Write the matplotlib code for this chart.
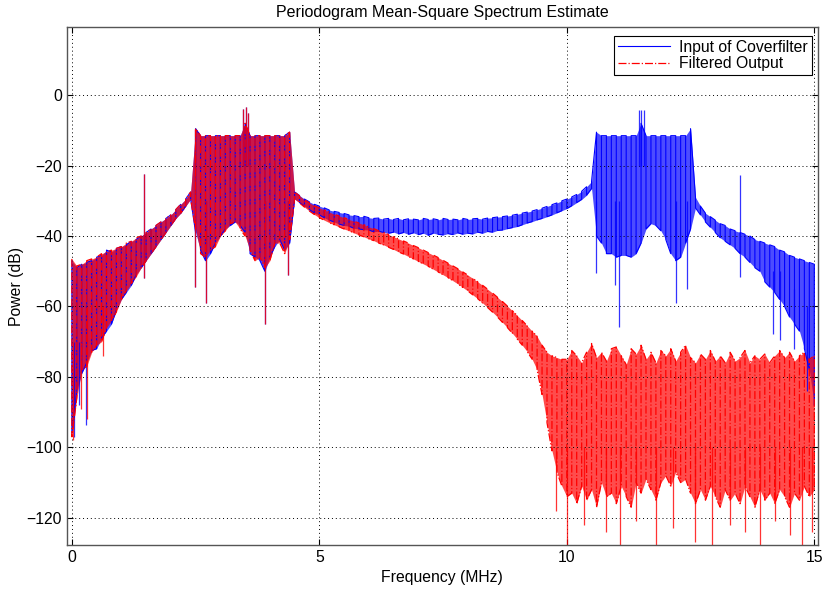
import matplotlib

matplotlib.use("Agg")

import matplotlib.pyplot as plt
import numpy as np

matplotlib.rcParams["font.family"] = ["Liberation Sans", "DejaVu Sans"]
matplotlib.rcParams["font.size"] = 11.3

# frequency grid (MHz), one value every 0.1 MHz from 0 to 15
freq = np.round(np.arange(151) * 0.1, 1)

# Input of Coverfilter: upper / lower edge of the periodogram trace (dB)
blue_upper = [
    -47, -49, -48, -47.5, -47, -46, -45.5, -44, -44.5, -43.5,
    -43, -42.5, -41.5, -41, -40, -39, -38, -37, -36, -35,
    -34, -32.5, -31, -29.5, -27.5, -9.5, -11.5, -11.5, -11.5, -11.5,
    -11.5, -11.5, -11.5, -11.5, -11.5, -8, -11.5, -11.5, -11.5, -11.5,
    -11.5, -11.5, -11.5, -11.5, -10.5, -27.5, -28.5, -29.5, -30.3, -31,
    -31.5, -32, -32.6, -33, -33.3, -33.6, -34, -34.2, -34.5, -34.4,
    -34.8, -35, -34.9, -35.2, -35, -35.3, -35, -35.4, -35.1, -35.2,
    -35.4, -35, -35.3, -35.1, -35.4, -35, -35.3, -35.2, -35.4, -35,
    -35.3, -35.1, -35, -35.2, -34.9, -34.8, -34.6, -34.5, -34.3, -34.1,
    -33.8, -33.5, -33.2, -32.9, -32.5, -32.1, -31.6, -31.1, -30.6, -30,
    -29.5, -28.9, -28.2, -27.3, -26, -24.5, -10.5, -11.5, -11.5, -11.5,
    -11.5, -11.5, -11.5, -11.5, -11.5, -8, -11.5, -11.5, -11.5, -11.5,
    -11.5, -11.5, -11.5, -11.5, -11.5, -9.5, -29, -31.5, -33.5, -34.5,
    -35.5, -36.5, -37, -38, -38.5, -39, -39.5, -40, -41, -41.5,
    -42, -42.5, -43, -44, -44.5, -45.5, -46, -46.5, -47, -47.5,
    -48,
]
blue_lower = [
    -96, -84, -79, -76, -72.5, -72, -69, -67, -65, -61,
    -58, -56, -54, -51, -49, -47, -45, -43, -41, -39,
    -37, -35, -33.5, -31.5, -29.5, -39, -44, -47, -45, -42,
    -40, -38, -37, -36, -37, -39, -45, -46, -47, -50,
    -46, -43, -41, -44, -42, -29.5, -30.5, -31.5, -32.5, -33.5,
    -34, -34.8, -35.5, -36, -36.6, -37, -37.2, -37.8, -38, -38.2,
    -38.3, -38.8, -38.6, -39, -39.2, -38.9, -39.4, -39, -39.5, -39.1,
    -39.6, -39.2, -39.8, -39.2, -39.5, -39.7, -39.3, -39.6, -39.1, -39.5,
    -39.2, -39.4, -38.9, -39.2, -38.7, -38.9, -38.4, -38.3, -37.9, -37.6,
    -37.3, -36.8, -36.3, -35.9, -35.4, -35, -34.5, -34, -33.4, -32.8,
    -32.2, -31.4, -30.5, -29.6, -28.4, -26.5, -40, -42, -45, -45,
    -46, -45.5, -45.5, -46, -45, -42, -38, -36.5, -37, -38.5,
    -41, -45, -47, -46, -42, -38, -32, -34, -36, -37.5,
    -39, -40.5, -41.5, -42.5, -43.5, -45, -46, -47.5, -49, -50,
    -53, -54.5, -56, -58, -60, -63, -65, -67, -72, -78,
    -88,
]

# Filtered Output: upper / lower edge (dB)
red_upper = [
    -46.5, -48.5, -48, -47, -46.5, -46, -45, -44.5, -44, -43.5,
    -43, -42, -41.5, -40.5, -40, -39, -38, -37, -36, -35,
    -34, -32.5, -31, -29.5, -27.5, -9.5, -11.5, -11.5, -11.5, -11.5,
    -11.5, -11.5, -11.5, -11.5, -11.5, -8, -11.5, -11.5, -11.5, -11.5,
    -11.5, -11.5, -11.5, -11.5, -10.5, -27.5, -28.6, -29.7, -30.6, -31.4,
    -32, -32.6, -33.2, -33.8, -34.3, -34.8, -35.3, -35.8, -36.3, -36.8,
    -37.4, -37.9, -38.5, -39, -39.6, -40.2, -40.8, -41.4, -42, -42.7,
    -43.3, -44, -44.7, -45.4, -46.1, -46.9, -47.7, -48.5, -49.3, -50.2,
    -51.1, -52, -53, -54, -55.1, -56.2, -57.4, -58.6, -59.9, -61.2,
    -62.6, -64, -65.5, -67, -68.5, -71, -73, -74, -74.5, -75,
    -75, -72.5, -74, -76, -73, -70.5, -74.5, -73, -75.5, -72,
    -71.5, -74, -76.5, -72, -73.5, -71, -75, -73, -76, -72.5,
    -74, -72, -75.5, -73, -71, -74.5, -76, -73.5, -75, -72.5,
    -75.5, -74, -76, -73, -75.5, -74.5, -72.5, -76, -74, -75,
    -73.5, -76, -74, -72.5, -74.5, -73, -75.5, -74, -73, -75,
    -74,
]
red_lower = [
    -97, -86, -78, -77, -73, -71, -70, -66, -64, -61.5,
    -58, -55.5, -53.5, -51.5, -49, -47, -45, -43, -41, -39,
    -37, -35, -33.5, -31.5, -29.5, -38, -45, -46, -44, -43,
    -40, -38.5, -36.5, -36, -38, -40, -44, -47, -46, -49,
    -47, -42, -42, -45, -41, -29.5, -30.6, -31.8, -32.9, -33.9,
    -34.8, -35.5, -36.2, -36.8, -37.4, -38, -38.5, -39.1, -39.7, -40.2,
    -40.8, -41.3, -42, -42.5, -43.2, -43.8, -44.5, -45.1, -45.8, -46.5,
    -47.2, -47.9, -48.6, -49.4, -50.2, -51, -51.8, -52.7, -53.6, -54.6,
    -55.6, -56.7, -57.8, -59, -60.3, -61.6, -63, -64.5, -66, -67.6,
    -69.3, -71, -72.8, -75, -78, -85, -93, -101, -107, -111,
    -114, -113, -116, -111, -115, -112, -117, -110, -114, -113,
    -116, -111, -114, -117, -110, -113, -109, -112, -115, -110,
    -108, -111, -107, -110, -109, -113, -116, -112, -115, -111,
    -114, -117, -112, -115, -113, -116, -111, -114, -117, -112,
    -115, -113, -116, -112, -114, -117, -113, -115, -111, -114,
    -112,
]

# isolated spectral lines / deep nulls (MHz, top dB, bottom dB)
blue_spike_f = [0.05, 0.15, 0.28, 1.46, 2.48, 2.71, 3.45, 3.52, 3.56, 3.91, 4.37,
                10.58, 10.97, 11.05, 11.45, 11.5, 11.55, 12.2, 12.43, 13.5,
                14.17, 14.3, 14.6, 14.85]
blue_spike_top = [-70, -70, -60, -22.5, -9.5, -30, -4, -3.5, -5, -30, -30,
                  -30, -30, -30, -4.3, -4.3, -4.3, -30, -30, -22.7,
                  -50, -50, -55, -60]
blue_spike_bottom = [-97, -88, -93.6, -52, -54.5, -59, -20, -20, -20, -65, -51,
                     -50.6, -54, -65.7, -20, -20, -20, -59, -55, -51.6,
                     -67.7, -69.6, -72, -84]

red_spike_f = [0.03, 0.18, 0.3, 0.62, 1.46, 2.48, 2.71, 3.45, 3.52, 3.56, 3.91, 4.37,
               9.78, 10.0, 10.35, 10.8, 11.07, 11.4, 11.8, 12.15, 12.6, 12.93,
               13.3, 13.6, 13.9, 14.2, 14.5, 14.75, 14.95]
red_spike_top = [-70, -70, -60, -60, -22.5, -9.5, -30, -4, -3.5, -5, -30, -30,
                 -100, -100, -100, -100, -100, -100, -100, -100, -100, -100,
                 -100, -100, -100, -100, -100, -100, -100]
red_spike_bottom = [-98, -89, -92, -74, -52, -54.5, -59, -20, -20, -20, -65, -51,
                    -118, -128, -122, -124, -128, -121, -128, -123, -127, -128,
                    -122, -124, -128, -121, -125, -128, -124]


def strokes(upper, lower):
    # vertical stroke at each frequency, alternating direction
    pairs = np.column_stack([upper, lower])
    pairs[1::2] = pairs[1::2, ::-1]
    return np.repeat(freq, 2), pairs.ravel()


fig = plt.figure(figsize=(8.26, 5.91), dpi=100)
ax = fig.add_axes([0.081, 0.078, 0.909, 0.876])

blue = "#0000ff"
red = "#ff0000"

# input trace
ax.fill_between(freq, blue_lower, blue_upper, color=blue, alpha=0.7, lw=0)
ax.vlines(blue_spike_f, blue_spike_bottom, blue_spike_top, color=blue, lw=0.9, alpha=0.8)
x, y = strokes(blue_upper, blue_lower)
ax.plot(x, y, color=blue, lw=0.8, label="Input of Coverfilter")

# filtered output on top
ax.fill_between(freq, red_lower, red_upper, color=red, alpha=0.7, lw=0)
ax.vlines(red_spike_f, red_spike_bottom, red_spike_top, color=red, lw=0.9, alpha=0.8)
x, y = strokes(red_upper, red_lower)
ax.plot(x, y, color=red, lw=0.9, linestyle="-.", label="Filtered Output")

ax.set_xlim(-0.1, 15.07)
ax.set_ylim(-127.7, 19.3)
ax.set_xticks([0, 5, 10, 15])
ax.set_yticks([-120, -100, -80, -60, -40, -20, 0])
ax.grid(True, color="k", linestyle=(0, (1, 3)), lw=0.7)
ax.tick_params(direction="in", top=True, right=True, length=4)
for s in ax.spines.values():
    s.set_color("#555555")
    s.set_linewidth(1.0)

ax.set_title("Periodogram Mean-Square Spectrum Estimate", fontsize=11.5, pad=7)
ax.set_xlabel("Frequency (MHz)", labelpad=4)
ax.set_ylabel("Power (dB)", labelpad=2)

leg = ax.legend(loc="upper right", bbox_to_anchor=(0.992, 0.983), borderaxespad=0,
                fancybox=False, framealpha=1, edgecolor="k", handlelength=3.3,
                borderpad=0.25, labelspacing=0.1, handletextpad=0.6)
leg.get_frame().set_linewidth(0.8)

plt.savefig("out.png", dpi=100)
